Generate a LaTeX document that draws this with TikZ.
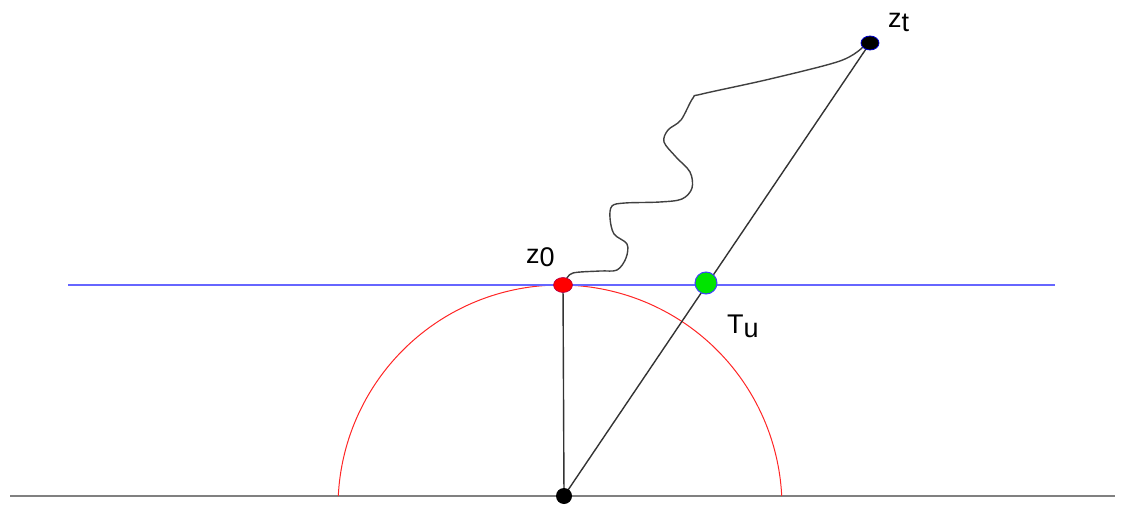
\documentclass[tikz,border=0pt]{standalone}
\usepackage{fontspec}
\setmainfont{Liberation Sans}
\begin{document}
\begin{tikzpicture}[x=1pt,y=-1pt,
  lbl/.style={font=\fontsize{27}{31}\selectfont, inner sep=0pt, anchor=base west},
  blk/.style={draw=black!80, line width=1.4pt}]
\useasboundingbox (0,0) rectangle (1138,516);
% coordinates
\coordinate (O) at (564,496);
\coordinate (Z0) at (563,285);
\coordinate (ZT) at (870,43);
\coordinate (TU) at (706,283);
\coordinate (BL) at (10,496);
\coordinate (BR) at (1115,496);
\coordinate (HL) at (68,285);
\coordinate (HR) at (1055,285);
% base line
\draw[gray, line width=2pt] (BL) -- (BR);
% red arc
\draw[red!85, line width=1pt] plot[domain=2.9:177.1, samples=120, smooth] ({560+222*cos(\x)},{507-222*sin(\x)});
% blue line
\draw[blue!60, line width=1.6pt] (HL) -- (HR);
% black lines
\draw[blk] (O) -- (Z0);
\draw[blk] (O) -- (ZT);
% wiggly path
\draw[black!75, line width=1.4pt] plot[smooth, tension=0.55] coordinates {
 (566,280) (573,273) (600,271) (617,270) (626,258) (627,244) (614,234) (610,218) (612,206) (625,203) (660,202) (682,199) (692,188) (690,172) (676,157) (664,142) (668,130) (681,120) (693,98) (702,94) (770,79) (840,61) (863,47)};
% dots
\fill[black] (O) circle[radius=8];
\filldraw[fill=red, draw=red!70!blue, line width=0.6pt] (Z0) ellipse[x radius=9.5, y radius=7.5];
\filldraw[fill=green!85!black!70!green, draw=blue!75, line width=1pt] (TU) circle[radius=11];
\filldraw[fill=black, draw=blue!80!black, line width=0.8pt] (ZT) ellipse[x radius=9, y radius=7];
% labels
\node[lbl] (lz0) at (526,263) {z\raisebox{-3pt}{0}};
\node[lbl] (lzt) at (888,28) {z\raisebox{-4pt}{t}};
\node[lbl] (ltu) at (727,333) {T\raisebox{-4pt}{u}};
\end{tikzpicture}
\end{document}
